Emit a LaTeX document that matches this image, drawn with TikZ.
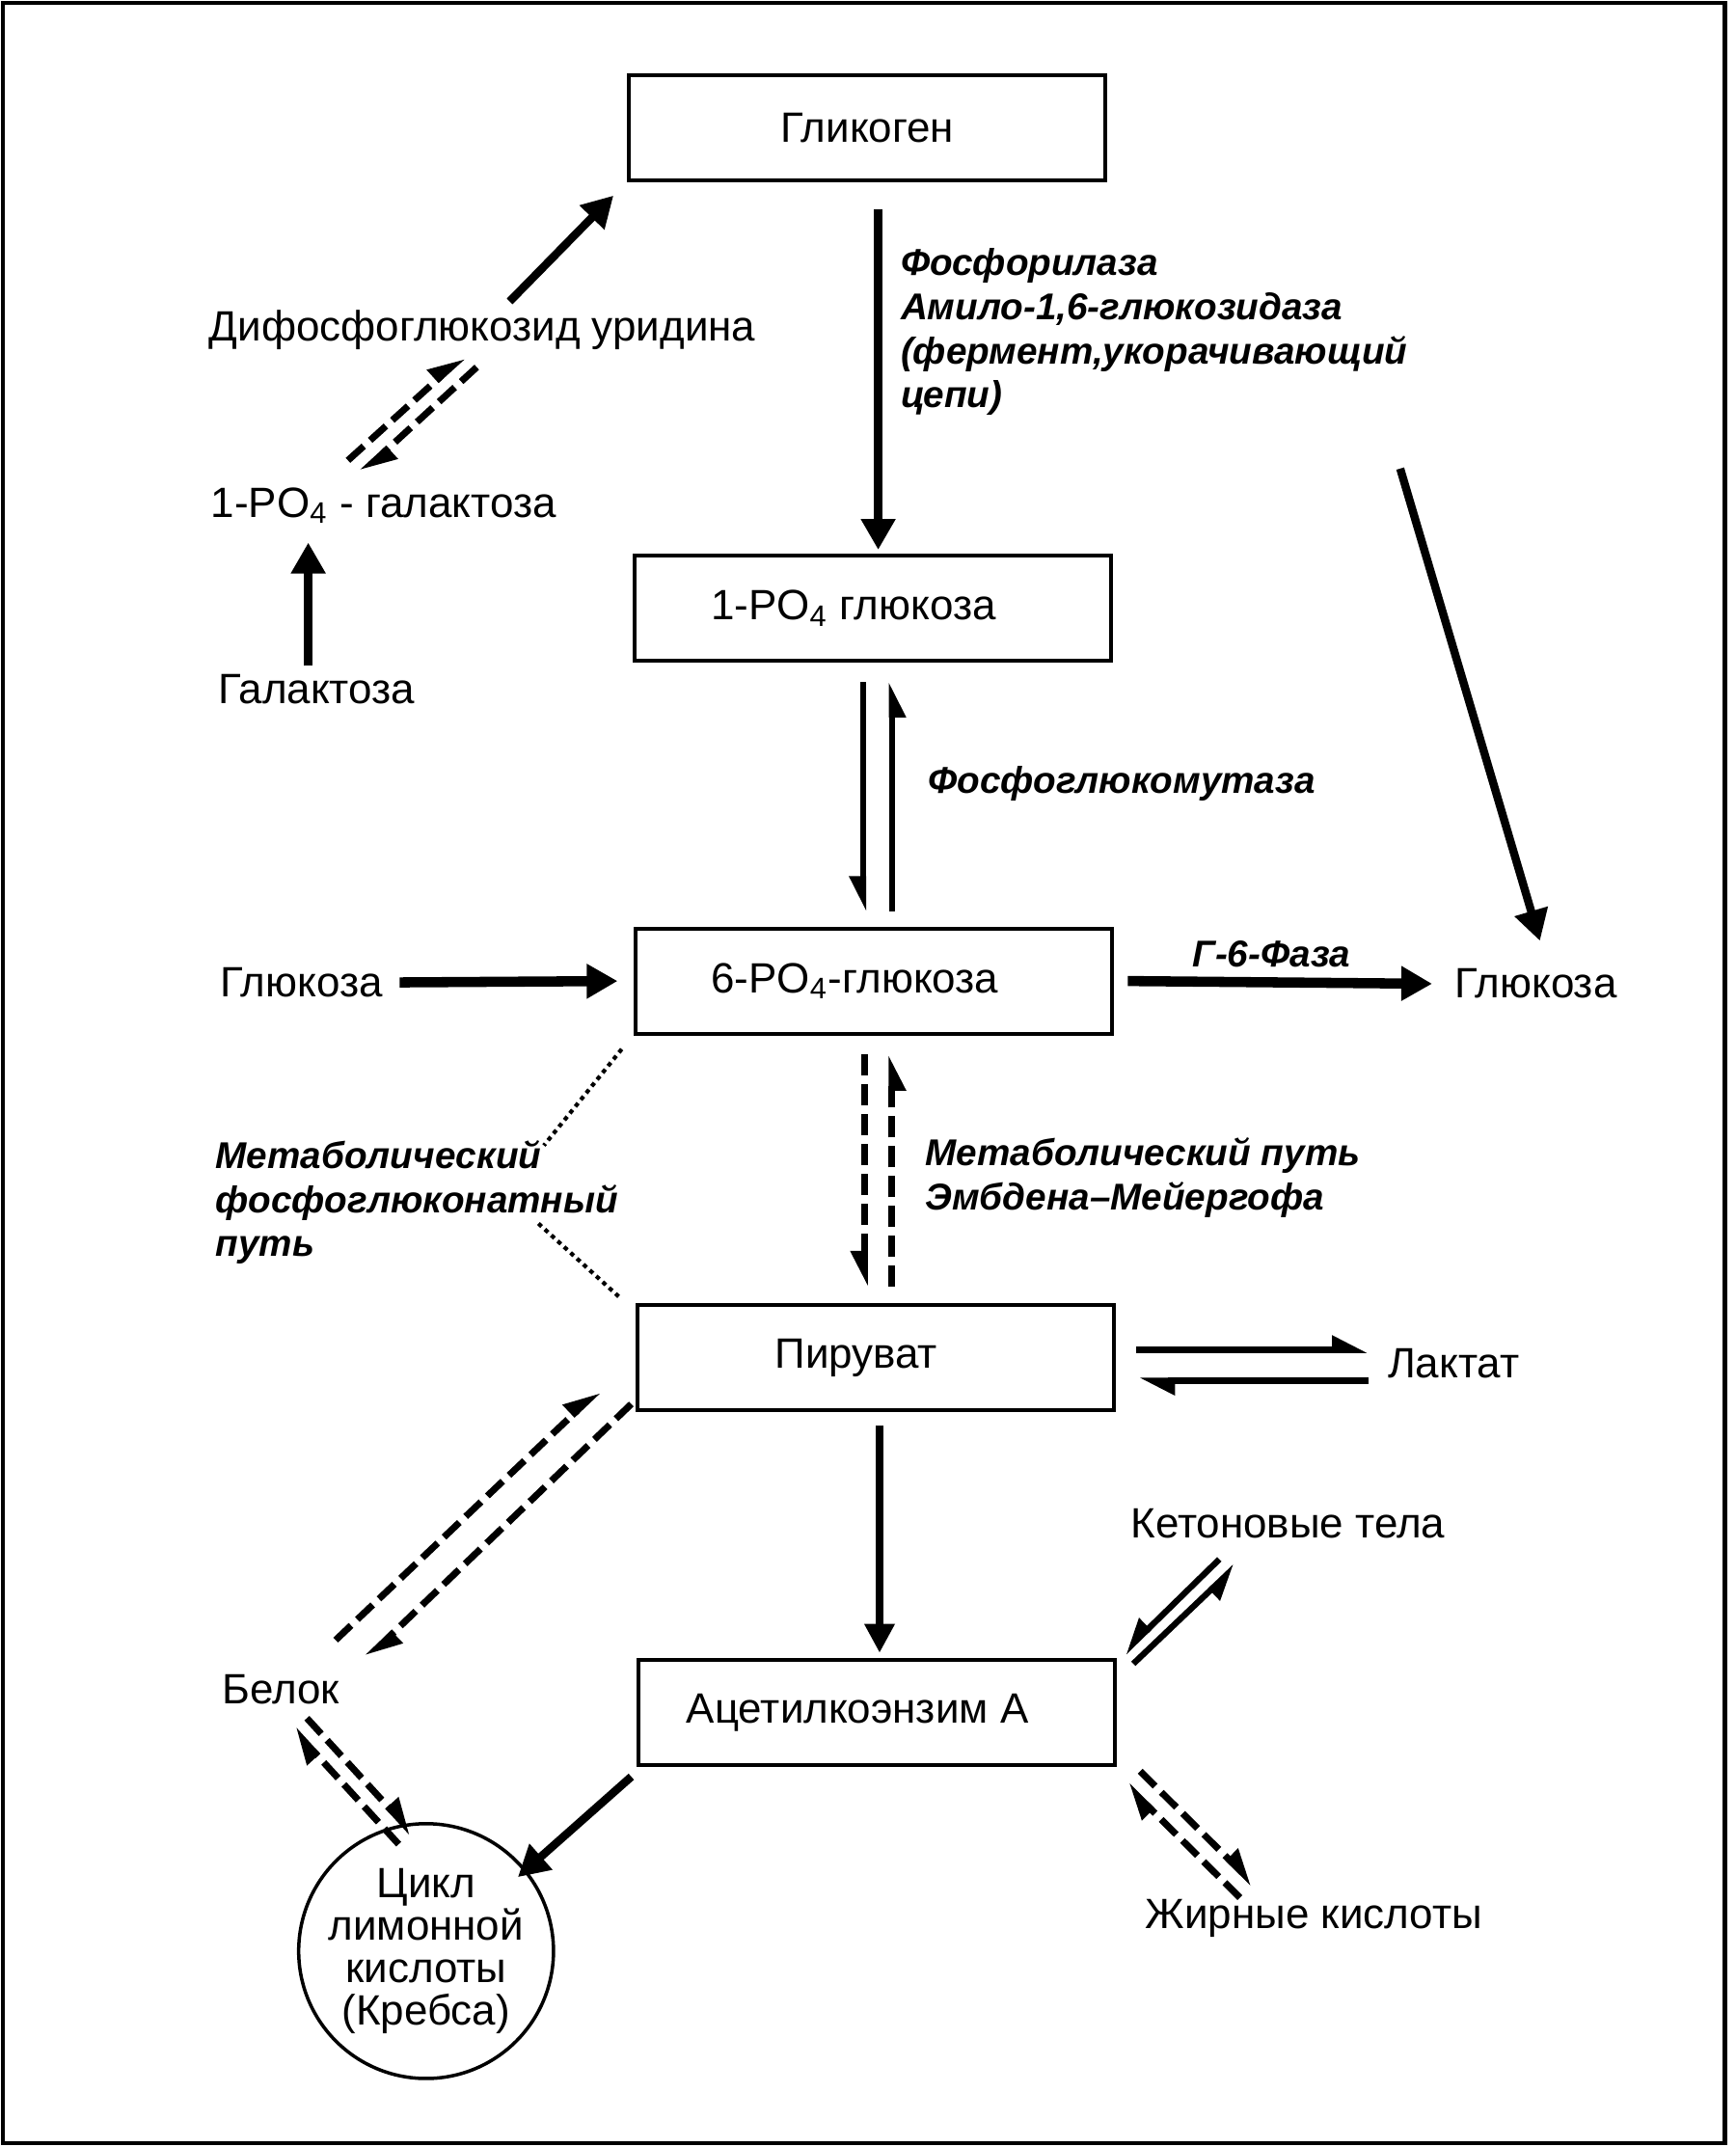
\documentclass[tikz,border=0pt]{standalone}
\usepackage{fontspec}
\setmainfont{Liberation Sans}
\usetikzlibrary{arrows.meta,calc,positioning}

\tikzset{
  box/.style={draw, line width=1.1pt, minimum width=49.4mm, minimum height=10.9mm, inner sep=0pt,
    font=\fontsize{12.5}{13}\selectfont},
  lab/.style={inner sep=0pt, font=\fontsize{12.5}{13}\selectfont},
  enz/.style={inner sep=0pt, align=left, font=\fontsize{11}{13}\selectfont\bfseries\itshape},
  big/.style={line width=2.4pt, -{Triangle[length=3.2mm,width=3.4mm]}},
  mid/.style={line width=2pt, -{Triangle[length=3mm,width=3mm]}},
  harpR/.style={line width=1.8pt, -{Triangle[right,length=3mm,width=2.8mm]}},
  harpL/.style={line width=1.8pt, -{Triangle[left,length=3mm,width=2.8mm]}},
  dashy/.style={line width=2pt, dash pattern=on 2.2mm off 0.9mm},
  dotty/.style={line width=1.2pt, dash pattern=on 0.45mm off 0.45mm},
}
\newcommand{\lft}{\hspace*{-4mm}}

\begin{document}
\begin{tikzpicture}[x=0.14207mm, y=-0.14207mm]
\useasboundingbox (0,0) rectangle (1267,1567);
\draw[line width=1.2pt] (2,2) rectangle (1259,1564);

% boxes
\node[box] (glyc) at (633,93) {Гликоген};
\node[box] (g1p) at (637,444) {\lft 1-PO\textsubscript{4} глюкоза};
\node[box] (g6p) at (638,716) {\lft 6-PO\textsubscript{4}-глюкоза};
\node[box] (pyr) at (639,991) {\lft Пируват};
\node[box] (acc) at (640,1250) {\lft Ацетилкоэнзим А};
\node[draw, circle, line width=1pt, minimum size=22.2mm, inner sep=0pt, align=center,
  font=\fontsize{12.5}{12.5}\selectfont] (krebs) at (311,1424) {Цикл\\лимонной\\кислоты\\(Кребса)};

% substances
\node[lab] (udpg) at (352,241) {Дифосфоглюкозид уридина};
\node[lab] (galp) at (280,369) {1-PO\textsubscript{4} - галактоза};
\node[lab] (gal) at (231,503) {Галактоза};
\node[lab] (glul) at (220,717) {Глюкоза};
\node[lab] (glur) at (1121,718) {Глюкоза};
\node[lab] (lac) at (1061,995) {Лактат};
\node[lab] (kt) at (940,1112) {Кетоновые тела};
\node[lab] (belok) at (205,1233) {Белок};
\node[lab] (fat) at (959,1400) {Жирные кислоты};

% enzymes and pathways
\node[enz, anchor=north west] (phos) at (657,181) {Фосфорилаза\\Амило-1,6-глюкозидаза\\(фермент,укорачивающий\\цепи)};
\node[enz, anchor=west] (pgm) at (677,572) {Фосфоглюкомутаза};
\node[enz] (g6f) at (928,696) {Г-6-Фаза};
\node[enz, anchor=north west] (emp) at (675,830) {Метаболический путь\\Эмбдена–Мейергофа};
\node[enz, anchor=north west] (pgl) at (157,832) {Метаболический\\фосфоглюконатный\\путь};

% upper part
\draw[big] ($(udpg)+(20,-21)$) -- ($(glyc.south west)+(-10,10)$);
\draw[harpL, dashy] ($(galp)+(-26,-33)$) -- ($(udpg)+(-14,19)$);
\draw[harpL, dashy] ($(udpg)+(-4,27)$) -- ($(galp)+(-16,-24)$);
\draw[big] ($(gal)+(-6,-17)$) -- ($(galp)+(-55,27)$);
\draw[big] ($(glyc.south)+(8,20)$) -- ($(g1p.north)+(4,-3)$);
\coordinate (diag) at (1022,342);
\draw[big] (diag) -- ($(glur.north)+(3,-20)$);
\draw[harpR] ($(g1p.south)+(-7,14)$) -- ($(g6p.north)+(-8,-11)$);
\draw[harpR] ($(g6p.north)+(13,-11)$) -- ($(g1p.south)+(14,14)$);

% glucose
\draw[big, line width=3pt] ($(glul.east)+(12,0)$) -- ($(g6p.west)+(-12,0)$);
\draw[big, line width=3pt] ($(g6p.east)+(10,0)$) -- ($(glur.west)+(-16,0)$);

% glycolysis
\draw[harpR, dashy] ($(g6p.south)+(-7,14)$) -- ($(pyr.north)+(-8,-12)$);
\draw[harpR, dashy] ($(pyr.north)+(12,-12)$) -- ($(g6p.south)+(13,14)$);
\coordinate (pgla) at (397,836);
\coordinate (pglb) at (393,893);
\draw[dotty] ($(g6p.south west)+(-9,10)$) -- (pgla);
\draw[dotty] (pglb) -- ($(pyr.north west)+(-10,-3)$);

% pyruvate
\draw[harpL, line width=2pt] ($(pyr.east)+(15,-6)$) -- ($(lac.west)+(-14,-10)$);
\draw[harpL, line width=2pt] ($(lac.west)+(-14,13)$) -- ($(pyr.east)+(17,17)$);
\draw[mid] ($(pyr.south)+(3,10)$) -- ($(acc.north)+(2,-4)$);
\draw[harpL, dashy] ($(belok)+(40,-36)$) -- ($(pyr.south west)+(-27,-16)$);
\draw[harpL, dashy] ($(pyr.south west)+(-3,-6)$) -- ($(belok)+(63,-23)$);

% lower part
\draw[harpL, dashy] ($(krebs)+(-20,-78)$) -- ($(belok)+(9,29)$);
\draw[harpL, dashy] ($(belok)+(19,21)$) -- ($(krebs)+(-10,-86)$);
\draw[big] ($(acc.south west)+(-4,7)$) -- ($(krebs)+(67,-54)$);
\draw[harpR] ($(kt)+(-50,26)$) -- ($(acc.north east)+(5,-4)$);
\draw[harpR] ($(acc.north east)+(12,4)$) -- ($(kt)+(-38,31)$);
\draw[harpL, dashy] ($(fat)+(-54,-15)$) -- ($(acc.south east)+(7,13)$);
\draw[harpL, dashy] ($(acc.south east)+(17,3)$) -- ($(fat)+(-44,-25)$);
\end{tikzpicture}
\end{document}
